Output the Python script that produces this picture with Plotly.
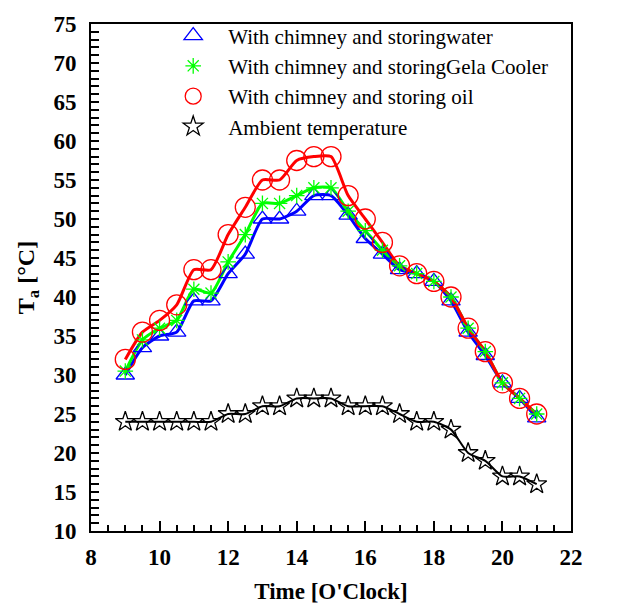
import plotly.graph_objects as go

time = [9, 9.5, 10, 10.5, 11, 11.5, 12, 12.5, 13, 13.5, 14, 14.5, 15, 15.5, 16, 16.5,
        17, 17.5, 18, 18.5, 19, 19.5, 20, 20.5, 21]
water = [30, 33.5, 35, 35.5, 39.5, 39.5, 43, 45.5, 50, 50, 51, 53, 53, 50.5, 47.5, 45.5,
         43.5, 43, 42, 39.5, 35.5, 32.5, 29, 27, 24.5]
gel = [30.5, 34.5, 36, 37, 41, 40.5, 44.5, 48, 52, 52, 53, 54, 54, 51, 48.5, 46,
       44, 43, 42, 40, 36, 33, 29, 27, 25]
oil = [32, 35.5, 37, 39, 43.5, 43.5, 48, 51.5, 55, 55, 57.5, 58, 58, 53, 50, 47,
       44, 43, 42, 40, 36, 33, 29, 27, 25]
ambient = [24, 24, 24, 24, 24, 24, 25, 25, 26, 26, 27, 27, 27, 26, 26, 26,
           25, 24, 24, 23, 20, 19, 17, 17, 16]

names = ["With chimney and storingwater", "With chimney and storingGela Cooler",
         "With chimney and storing oil", "Ambient temperature"]
series = [water, gel, oil, ambient]
colors = ["#0000ff", "#00ff00", "#ff0000", "#000000"]
symbols = ["triangle-up-open", "asterisk-open", "circle-open", "star-open"]
sizes = [16, 13, 20, 15]
widths = [3, 3, 3, 2]

fig = go.Figure()
for name, ys, c, s, sz, w in zip(names, series, colors, symbols, sizes, widths):
    fig.add_trace(go.Scatter(x=time, y=ys, mode="lines", line=dict(color=c, width=w, shape="spline", smoothing=0.6),
                             showlegend=False, hoverinfo="skip"))
for name, ys, c, s, sz, w in zip(names, series, colors, symbols, sizes, widths):
    fig.add_trace(go.Scatter(x=time, y=ys, mode="markers", name=name,
                             marker=dict(symbol=s, size=sz, color=c, line=dict(color=c, width=1.3))))

font_family = "Liberation Serif"
fig.update_layout(
    width=621, height=612,
    margin=dict(l=91, r=50, t=21, b=79),
    paper_bgcolor="white", plot_bgcolor="white",
    font=dict(family=font_family, color="black"),
    legend=dict(x=0.14, y=1.017, xanchor="left", yanchor="top", bgcolor="rgba(0,0,0,0)",
                font=dict(family=font_family, size=21, color="black"),
                tracegroupgap=0, itemsizing="trace", itemwidth=60),
    xaxis=dict(range=[8, 22], dtick=2, tick0=8, ticks="inside", ticklen=10, tickwidth=2,
               tickcolor="black", showline=True, linewidth=2, linecolor="black", mirror=True,
               showgrid=False, zeroline=False, ticklabelstandoff=4,
               tickfont=dict(family=font_family, size=23, color="black", weight="bold"),
               minor=dict(dtick=0.5, ticks="inside", ticklen=6, tickwidth=2, tickcolor="black", showgrid=False),
               title=dict(text="<b>Time [O'Clock]</b>", font=dict(family=font_family, size=23, color="black"), standoff=14)),
    yaxis=dict(range=[10, 75], dtick=5, tick0=10, ticks="inside", ticklen=8, tickwidth=2,
               tickcolor="black", showline=True, linewidth=2, linecolor="black", mirror=True,
               showgrid=False, zeroline=False, ticklabelstandoff=8,
               tickfont=dict(family=font_family, size=23, color="black", weight="bold"),
               minor=dict(dtick=1, ticks="inside", ticklen=8, tickwidth=2, tickcolor="black", showgrid=False),
               title=dict(text="<b>T<sub>a</sub> [°C]</b>", font=dict(family=font_family, size=24, color="black"), standoff=12)),
)

fig.write_html("out.html")
